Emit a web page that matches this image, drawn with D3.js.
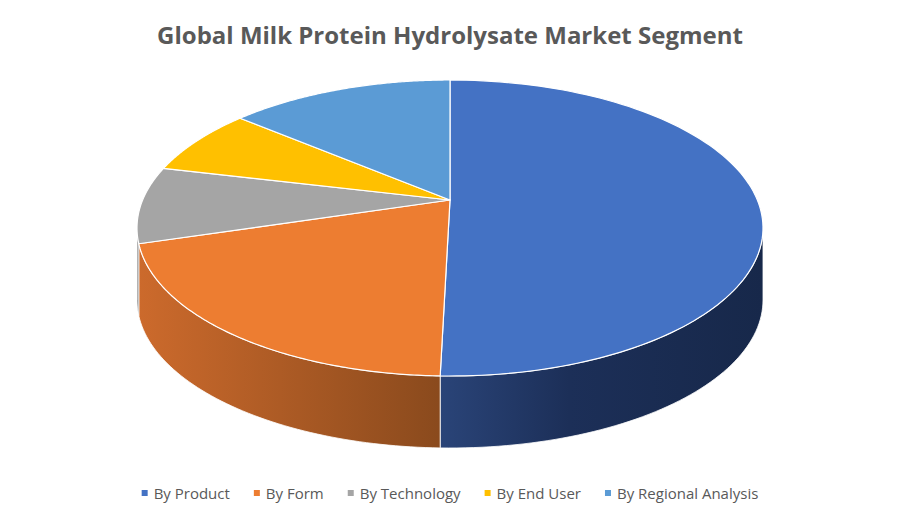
<!DOCTYPE html>
<html><head><meta charset="utf-8">
<script src="https://cdn.jsdelivr.net/npm/d3@7"></script>
<style>body{margin:0;background:#fff}</style></head>
<body><svg id="c" width="900" height="525"></svg>
<script>
const categories = ["By Product","By Form","By Technology","By End User","By Regional Analysis"];
const values = [50.5, 22.8, 8.3, 6.7, 11.7];
const colors = ["#4472C4","#ED7D31","#A5A5A5","#FFC000","#5B9BD5"];
const sideDark = ["#1a2c55","#8a4a1d","#6b6b6b","#a07800","#3a6a98"];
const sideLight = ["#2f4c85","#cc6a2c","#8a8a8a","#c49600","#4a80b5"];

const svg = d3.select("#c");
const cx=450, cy=228, rx=313, ry=148, depth=72, apex=[450,200];
const pie = d3.pie().sort(null).value(d=>d)(values);
const P=(t,dy=0)=>[cx+rx*Math.sin(t), cy-ry*Math.cos(t)+dy];
const defs = svg.append("defs");

// sides
pie.forEach((s,i)=>{
  const a=Math.max(s.startAngle,Math.PI/2), b=Math.min(s.endAngle,3*Math.PI/2);
  if(b<=a) return;
  const n=60, top=[], bot=[];
  for(let k=0;k<=n;k++){const t=a+(b-a)*k/n; top.push(P(t)); bot.push(P(t,depth));}
  const pts=top.concat(bot.reverse());
  const xs=pts.map(p=>p[0]);
  const g=defs.append("linearGradient").attr("id","g"+i).attr("gradientUnits","userSpaceOnUse")
    .attr("x1",d3.min(xs)).attr("x2",d3.max(xs)).attr("y1",0).attr("y2",0);
  const left = i===0 ? sideLight[i] : sideLight[i], right = sideDark[i];
  g.append("stop").attr("offset","0").attr("stop-color", i===0?right:left);
  g.append("stop").attr("offset","1").attr("stop-color", i===0?right:right);
  if(i===0){g.select("stop").attr("stop-color",sideLight[0]);
    g.selectAll("stop").remove();
    g.append("stop").attr("offset","0").attr("stop-color","#2a4478");
    g.append("stop").attr("offset","0.4").attr("stop-color","#1c2f58");
    g.append("stop").attr("offset","1").attr("stop-color","#17284a");}
  svg.append("path").attr("d","M"+pts.map(p=>p.join(",")).join("L")+"Z")
    .attr("fill","url(#g"+i+")").attr("stroke","#fff").attr("stroke-width",0.8);
});
// tops
pie.forEach((s,i)=>{
  const n=120, pts=[apex];
  for(let k=0;k<=n;k++){pts.push(P(s.startAngle+(s.endAngle-s.startAngle)*k/n));}
  svg.append("path").attr("d","M"+pts.map(p=>p.join(",")).join("L")+"Z")
    .attr("fill",colors[i]).attr("stroke","#fff").attr("stroke-width",1.2).attr("stroke-linejoin","round");
});

svg.append("text").attr("x",450).attr("y",44).attr("text-anchor","middle")
  .attr("font-family","'Open Sans',Calibri,sans-serif").attr("font-weight","bold").attr("font-size",24)
  .attr("fill","#595959").text("Global Milk Protein Hydrolysate Market Segment");

// legend
const lg=svg.append("g").attr("font-family","'Open Sans',sans-serif").attr("font-size",15).attr("fill","#595959");
let x=117;
const widths=[];
categories.forEach((c,i)=>{
  lg.append("rect").attr("x",x).attr("y",490).attr("width",6).attr("height",6).attr("fill",colors[i]);
  const t=lg.append("text").attr("x",x+12).attr("y",499).text(c);
  x += 12 + t.node().getComputedTextLength() + 24;
});
const total=x-24-117, shift=(900-total)/2-117;
lg.attr("transform",`translate(${shift},0)`);
</script></body></html>
